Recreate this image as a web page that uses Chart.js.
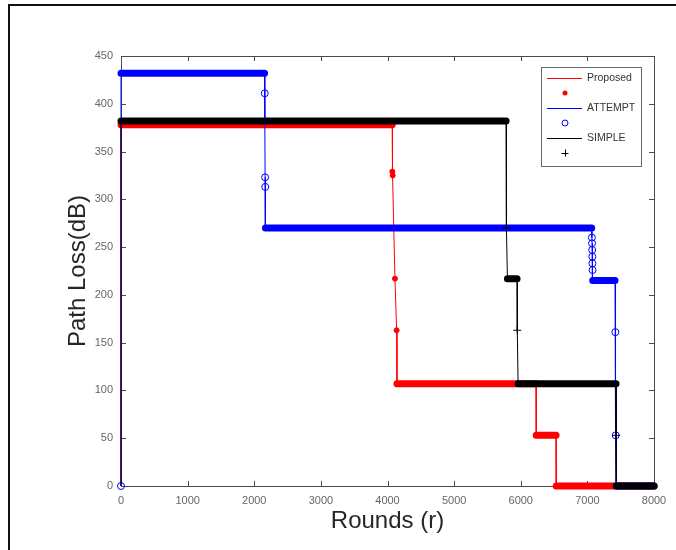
<!DOCTYPE html>
<html>
<head>
<meta charset="utf-8">
<script src="https://cdn.jsdelivr.net/npm/chart.js@4/dist/chart.umd.min.js"></script>
<style>
  html, body { margin: 0; padding: 0; background: #fff; }
  #frame { position: absolute; left: 8px; top: 4px; width: 720px; height: 600px; border: 2px solid #111; border-right: none; border-bottom: none; }
  #wrap { position: absolute; left: 0; top: 0; width: 676px; height: 550px; }
</style>
</head>
<body>
<div id="frame"></div>
<div id="wrap"><canvas id="chart" width="676" height="550"></canvas></div>
<script>
// Proposed: stepped line corners, dense-marker runs, single markers
const proposedLineX = [0, 0, 4070, 4075, 4112, 4137, 4142, 6230, 6232, 6530, 6532, 8000];
const proposedLineY = [0, 378, 378, 327, 217, 163, 107, 107, 53, 53, 0, 0];
const proposedRunStart = [0, 4142, 6232, 6532];
const proposedRunEnd = [4070, 6230, 6530, 8000];
const proposedRunLevel = [378, 107, 53, 0];
const proposedMarkX = [4072, 4078, 4112, 4137];
const proposedMarkY = [329, 325, 217, 163];

// ATTEMPT
const attemptLineX = [0, 0, 2155, 2158, 2160, 2163, 2165, 2168, 7065, 7068, 7070, 7072, 7074, 7076, 7078, 7080, 7415, 7420, 7425, 7430, 8000];
const attemptLineY = [0, 432, 432, 411, 378, 323, 313, 270, 270, 260, 254, 247, 240, 233, 226, 215, 215, 161, 53, 0, 0];
const attemptRunStart = [0, 2168, 7080, 7430];
const attemptRunEnd = [2155, 7065, 7415, 8000];
const attemptRunLevel = [432, 270, 215, 0];
const attemptMarkX = [0, 2158, 2163, 2165, 7068, 7070, 7072, 7074, 7076, 7078, 7420, 7425];
const attemptMarkY = [0, 411, 323, 313, 260, 254, 247, 240, 233, 226, 161, 53];

// SIMPLE
const simpleLineX = [0, 0, 5780, 5785, 5800, 5945, 5948, 5960, 7430, 7432, 7435, 8000];
const simpleLineY = [0, 382, 382, 270, 217, 217, 163, 107, 107, 53, 0, 0];
const simpleRunStart = [0, 5800, 5960, 7435];
const simpleRunEnd = [5780, 5945, 7430, 8000];
const simpleRunLevel = [382, 217, 107, 0];
const simpleMarkX = [5785, 5948, 7432];
const simpleMarkY = [270, 163, 53];

const xTickValues = [0, 1000, 2000, 3000, 4000, 5000, 6000, 7000, 8000];
const yTickValues = [0, 50, 100, 150, 200, 250, 300, 350, 400, 450];

const toPoints = (xs, ys) => xs.map((x, i) => ({ x: x, y: ys[i] }));
const toRuns = (starts, ends, levels) => {
  const pts = [];
  starts.forEach((s, i) => {
    pts.push({ x: s, y: levels[i] }, { x: ends[i], y: levels[i] });
    pts.push({ x: ends[i], y: null });
  });
  return pts;
};

Chart.defaults.font.family = '"Liberation Sans", Arial, sans-serif';

const lineSet = (data, color, order) => ({
  data: data, showLine: true, borderColor: color, borderWidth: 1,
  pointRadius: 0, order: order, clip: 6
});
const runSet = (data, color, order) => ({
  data: data, showLine: true, spanGaps: false, borderColor: color, borderWidth: 7,
  borderCapStyle: 'round', pointRadius: 0, order: order, clip: 6
});

const datasets = [
  lineSet(toPoints(proposedLineX, proposedLineY), '#ff0000', 6),
  runSet(toRuns(proposedRunStart, proposedRunEnd, proposedRunLevel), '#ff0000', 5),
  { data: toPoints(proposedMarkX, proposedMarkY), showLine: false, pointStyle: 'circle',
    pointRadius: 2.5, backgroundColor: '#ff0000', borderColor: '#ff0000', order: 5, clip: 6 },
  lineSet(toPoints(attemptLineX, attemptLineY), '#0000ff', 4),
  runSet(toRuns(attemptRunStart, attemptRunEnd, attemptRunLevel), '#0000ff', 3),
  { data: toPoints(attemptMarkX, attemptMarkY), showLine: false, pointStyle: 'circle',
    pointRadius: 3.5, backgroundColor: 'rgba(255,255,255,0)', borderColor: '#0000ff', borderWidth: 1, order: 3, clip: 6 },
  lineSet(toPoints(simpleLineX, simpleLineY), '#000000', 2),
  runSet(toRuns(simpleRunStart, simpleRunEnd, simpleRunLevel), '#000000', 1),
  { data: toPoints(simpleMarkX, simpleMarkY), showLine: false, pointStyle: 'cross',
    pointRadius: 4, borderColor: '#000000', borderWidth: 1, order: 1, clip: 6 }
];

// Axes box with inward ticks on all four sides
const axesBox = {
  id: 'axesBox',
  beforeDatasetsDraw(chart) {
    const { ctx, chartArea: a, scales: { x, y } } = chart;
    ctx.save();
    ctx.strokeStyle = '#4a4a4a';
    ctx.lineWidth = 1;
    ctx.strokeRect(Math.round(a.left) + 0.5, Math.round(a.top) + 0.5, Math.round(a.width), Math.round(a.height));
    ctx.beginPath();
    xTickValues.forEach(v => {
      const px = Math.round(x.getPixelForValue(v)) + 0.5;
      ctx.moveTo(px, a.bottom); ctx.lineTo(px, a.bottom - 5);
      ctx.moveTo(px, a.top); ctx.lineTo(px, a.top + 5);
    });
    yTickValues.forEach(v => {
      const py = Math.round(y.getPixelForValue(v)) + 0.5;
      ctx.moveTo(a.left, py); ctx.lineTo(a.left + 5, py);
      ctx.moveTo(a.right, py); ctx.lineTo(a.right - 5, py);
    });
    ctx.stroke();
    ctx.restore();
  }
};

// MATLAB-style legend: line row then marker row for each series
const legendBox = {
  id: 'legendBox',
  afterDraw(chart) {
    const ctx = chart.ctx;
    const left = 541, top = 67, w = 100, h = 99;
    ctx.save();
    ctx.fillStyle = '#fff';
    ctx.fillRect(left, top, w, h);
    ctx.strokeStyle = '#666';
    ctx.lineWidth = 1;
    ctx.strokeRect(left + 0.5, top + 0.5, w, h);
    const rows = [
      { name: 'Proposed', color: '#ff0000', mark: 'dot' },
      { name: 'ATTEMPT', color: '#0000ff', mark: 'circle' },
      { name: 'SIMPLE', color: '#000000', mark: 'plus' }
    ];
    ctx.font = '10.5px "Liberation Sans", Arial, sans-serif';
    ctx.textBaseline = 'middle';
    rows.forEach((r, i) => {
      const yLine = top + 11 + i * 30;
      const yMark = yLine + 15;
      ctx.strokeStyle = r.color;
      ctx.beginPath();
      ctx.moveTo(547, yLine + 0.5); ctx.lineTo(582, yLine + 0.5);
      ctx.stroke();
      ctx.fillStyle = '#333';
      ctx.fillText(r.name, 587, yLine);
      const cx = 565;
      ctx.beginPath();
      if (r.mark === 'dot') {
        ctx.fillStyle = r.color;
        ctx.arc(cx, yMark, 2.5, 0, Math.PI * 2);
        ctx.fill();
      } else if (r.mark === 'circle') {
        ctx.arc(cx, yMark, 3, 0, Math.PI * 2);
        ctx.stroke();
      } else {
        ctx.moveTo(cx - 3.5, yMark + 0.5); ctx.lineTo(cx + 3.5, yMark + 0.5);
        ctx.moveTo(cx + 0.5, yMark - 3.5); ctx.lineTo(cx + 0.5, yMark + 3.5);
        ctx.stroke();
      }
    });
    ctx.restore();
  }
};

new Chart(document.getElementById('chart').getContext('2d'), {
  type: 'scatter',
  data: { datasets: datasets },
  plugins: [axesBox, legendBox],
  options: {
    responsive: false,
    animation: false,
    layout: { padding: { left: 0, right: 22, top: 56, bottom: 0 } },
    plugins: { legend: { display: false }, tooltip: { enabled: false } },
    scales: {
      x: {
        type: 'linear', min: 0, max: 8000,
        grid: { display: false, drawTicks: false },
        border: { display: false },
        afterBuildTicks: s => { s.ticks = xTickValues.map(v => ({ value: v })); },
        afterFit: s => { s.height = 64; },
        ticks: { color: '#666', font: { size: 11 }, padding: 8, maxRotation: 0, autoSkip: false,
          callback: v => String(v) },
        title: { display: true, text: 'Rounds (r)', color: '#262626', font: { size: 24 }, padding: { top: 0, bottom: 14 } }
      },
      y: {
        min: 0, max: 450,
        grid: { display: false, drawTicks: false },
        border: { display: false },
        afterBuildTicks: s => { s.ticks = yTickValues.map(v => ({ value: v })); },
        afterFit: s => { s.width = 121; },
        ticks: { color: '#666', font: { size: 11 }, padding: 8, autoSkip: false,
          callback: v => String(v) },
        title: { display: true, text: 'Path Loss(dB)', color: '#262626', font: { size: 24 }, padding: { top: 64, bottom: 0 } }
      }
    }
  }
});
</script>
</body>
</html>
